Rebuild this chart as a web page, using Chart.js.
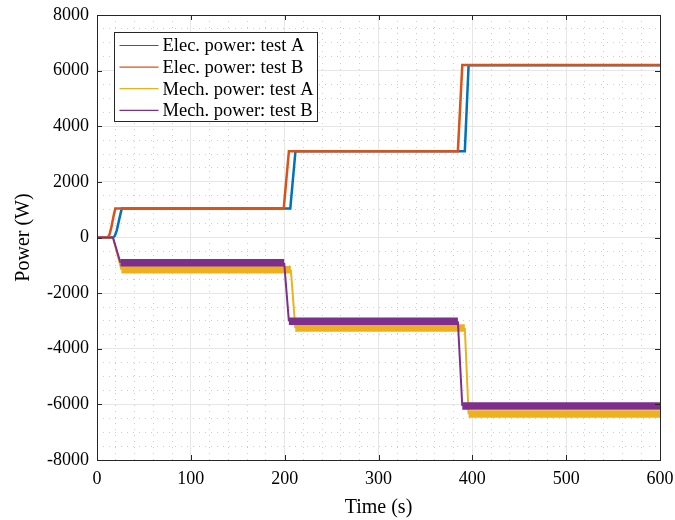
<!DOCTYPE html>
<html>
<head>
<meta charset="utf-8">
<script src="https://cdn.jsdelivr.net/npm/chart.js@4"></script>
<style>
  html, body { margin: 0; padding: 0; background: #fff; }
  #wrap { width: 675px; height: 520px; }
</style>
</head>
<body>
<div id="wrap"><canvas id="powerChart" width="675" height="520"></canvas></div>
<script>
// --- dados ---
const seriesLabels = ['Elec. power: test A', 'Elec. power: test B', 'Mech. power: test A', 'Mech. power: test B'];
const seriesColors = ['#0072BD', '#D95319', '#EDB120', '#7E2F8E'];

const elecATime  = [0, 17, 19, 21, 23, 25, 26.5, 206, 211.5, 392, 396, 600];
const elecAPower = [0, 0, 60, 250, 550, 850, 1045, 1045, 3105, 3105, 6190, 6190];

const elecBTime  = [0, 11.5, 13.5, 15.5, 17.5, 19.5, 199, 204.5, 384.6, 389.3, 600];
const elecBPower = [0, 0, 120, 400, 750, 1045, 1045, 3105, 3105, 6200, 6200];

const mechATime  = [0, 17, 26, 206.6, 211.3, 392, 396, 600];
const mechAPower = [0, 0, -1160, -1160, -3255, -3255, -6345, -6345];

const mechBTime  = [0, 17, 25, 199.5, 204.5, 384.6, 389.3, 600];
const mechBPower = [0, 0, -910, -910, -3015, -3015, -6060, -6060];

const xTicks = [0, 100, 200, 300, 400, 500, 600];
const yTicks = [-8000, -6000, -4000, -2000, 0, 2000, 4000, 6000, 8000];

const serif = "'Liberation Serif', 'DejaVu Serif', serif";
const axisColor = '#262626';

function toPoints(xs, ys) {
    return xs.map((x, i) => ({ x: x, y: ys[i] }));
}

// banda grossa (ruído) só nos patamares não nulos
const bandWidth = (ctx) => {
    const a = ctx.p0.parsed.y, b = ctx.p1.parsed.y;
    return (a === b && a !== 0) ? 7.5 : 2;
};

// --- legenda em caixa, estilo MATLAB ---
const boxLegend = {
    id: 'boxLegend',
    afterDraw(chart) {
        const ctx = chart.ctx;
        const x0 = 114.5, y0 = 32.5, w = 203, h = 89, row = 21.6;
        ctx.save();
        ctx.fillStyle = '#fff';
        ctx.fillRect(x0, y0, w, h);
        ctx.strokeStyle = axisColor;
        ctx.lineWidth = 1;
        ctx.strokeRect(x0, y0, w, h);
        ctx.font = '18.5px ' + serif;
        ctx.textBaseline = 'middle';
        chart.data.datasets.forEach((ds, i) => {
            const y = y0 + 13 + i * row;
            ctx.strokeStyle = ds.borderColor;
            ctx.lineWidth = 1.2;
            ctx.beginPath();
            ctx.moveTo(x0 + 5, y);
            ctx.lineTo(x0 + 44, y);
            ctx.stroke();
            ctx.fillStyle = '#000';
            ctx.fillText(ds.label, x0 + 48, y + 1);
        });
        ctx.restore();
    }
};

// --- caixa do eixo e ticks para dentro ---
const axisBox = {
    id: 'axisBox',
    afterDatasetsDraw(chart) {
        const { ctx, chartArea: a } = chart;
        const xs = chart.scales.x, ys = chart.scales.y;
        ctx.save();
        ctx.strokeStyle = axisColor;
        ctx.lineWidth = 1;
        ctx.beginPath();
        xTicks.forEach(v => {
            const px = Math.round(xs.getPixelForValue(v)) + 0.5;
            ctx.moveTo(px, a.bottom); ctx.lineTo(px, a.bottom - 5);
            ctx.moveTo(px, a.top); ctx.lineTo(px, a.top + 5);
        });
        yTicks.forEach(v => {
            const py = Math.round(ys.getPixelForValue(v)) + 0.5;
            ctx.moveTo(a.left, py); ctx.lineTo(a.left + 5, py);
            ctx.moveTo(a.right, py); ctx.lineTo(a.right - 5, py);
        });
        ctx.stroke();
        ctx.strokeRect(Math.round(a.left) + 0.5, Math.round(a.top) + 0.5,
            Math.round(a.right - a.left), Math.round(a.bottom - a.top));
        ctx.restore();
    }
};

const ctx = document.getElementById('powerChart').getContext('2d');
new Chart(ctx, {
    type: 'line',
    data: {
        datasets: [
            { label: seriesLabels[0], data: toPoints(elecATime, elecAPower), borderColor: seriesColors[0], borderWidth: 2.5, order: 4 },
            { label: seriesLabels[1], data: toPoints(elecBTime, elecBPower), borderColor: seriesColors[1], borderWidth: 2.5, order: 3 },
            { label: seriesLabels[2], data: toPoints(mechATime, mechAPower), borderColor: seriesColors[2], borderWidth: 2, order: 2,
              segment: { borderWidth: bandWidth } },
            { label: seriesLabels[3], data: toPoints(mechBTime, mechBPower), borderColor: seriesColors[3], borderWidth: 2, order: 1,
              segment: { borderWidth: bandWidth } }
        ]
    },
    options: {
        responsive: false,
        animation: false,
        parsing: false,
        elements: {
            point: { radius: 0 },
            line: { tension: 0, borderCapStyle: 'butt', borderJoinStyle: 'miter' }
        },
        layout: { padding: { top: 15, right: 15, left: 0, bottom: 0 } },
        plugins: {
            legend: { display: false },
            tooltip: { enabled: false }
        },
        scales: {
            xMinor: {
                type: 'linear', position: 'bottom', min: 0, max: 600,
                ticks: { display: false, stepSize: 20 },
                grid: { color: '#cccccc', drawTicks: false, lineWidth: 1 },
                border: { display: false, dash: [1, 5] },
                afterFit(s) { s.height = 0; s.paddingLeft = 0; s.paddingRight = 0; }
            },
            yMinor: {
                type: 'linear', position: 'left', min: -8000, max: 8000,
                ticks: { display: false, stepSize: 500 },
                grid: { color: '#cccccc', drawTicks: false, lineWidth: 1 },
                border: { display: false, dash: [1, 5] },
                afterFit(s) { s.width = 0; s.paddingTop = 0; s.paddingBottom = 0; }
            },
            x: {
                type: 'linear', position: 'bottom', min: 0, max: 600,
                afterBuildTicks(s) { s.ticks = xTicks.map(v => ({ value: v })); },
                ticks: { color: '#000', font: { family: serif, size: 18 }, padding: 8 },
                grid: { color: '#e6e6e6', drawTicks: false },
                border: { color: axisColor },
                title: { display: true, text: 'Time (s)', color: '#000', font: { family: serif, size: 20 }, padding: { top: 5, bottom: 0 } },
                afterFit(s) { s.height = 60; s.paddingLeft = 0; s.paddingRight = 0; }
            },
            y: {
                type: 'linear', position: 'left', min: -8000, max: 8000,
                afterBuildTicks(s) { s.ticks = yTicks.map(v => ({ value: v })); },
                ticks: { color: '#000', font: { family: serif, size: 18 }, padding: 8,
                         callback: v => String(v) },
                grid: { color: '#e6e6e6', drawTicks: false },
                border: { color: axisColor },
                title: { display: true, text: 'Power (W)', color: '#000', font: { family: serif, size: 20 }, padding: { top: 12, bottom: 0 } },
                afterFit(s) { s.width = 97; s.paddingTop = 0; s.paddingBottom = 0; }
            }
        }
    },
    plugins: [axisBox, boxLegend]
});
</script>
</body>
</html>
